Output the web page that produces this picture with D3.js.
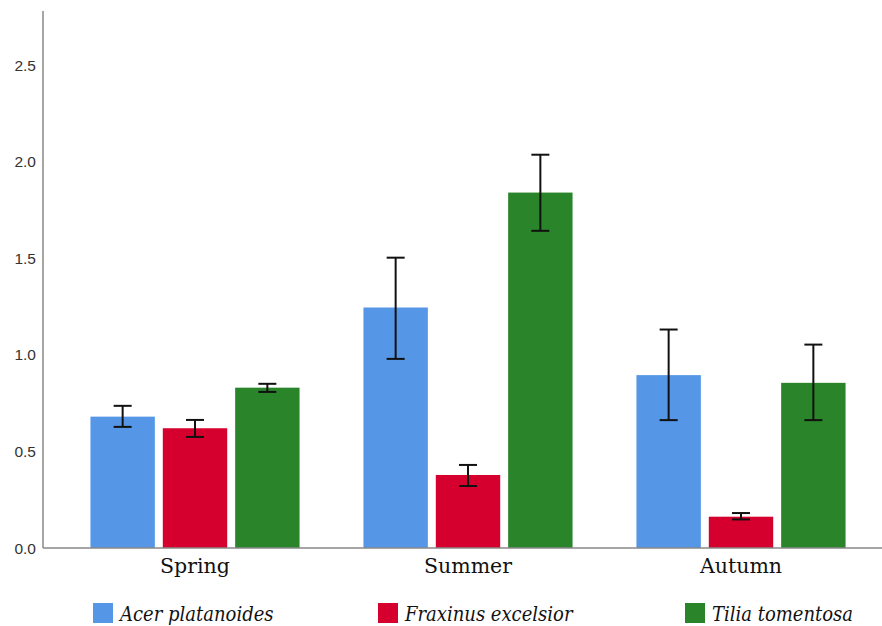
<!DOCTYPE html>
<html>
<head>
<meta charset="utf-8">
<script src="https://cdn.jsdelivr.net/npm/d3@7"></script>
<style>
  body { margin: 0; background: #fff; }
</style>
</head>
<body>
<div id="chart"></div>
<script>
// Data
const seasons = ['Spring', 'Summer', 'Autumn'];
const species = ['Acer platanoides', 'Fraxinus excelsior', 'Tilia tomentosa'];
const colors = ['#5596e6', '#d6002f', '#2a8429'];
const means = [
  [0.68, 0.62, 0.83],
  [1.245, 0.378, 1.84],
  [0.895, 0.162, 0.855]
];
const lower = [
  [0.627, 0.575, 0.808],
  [0.979, 0.321, 1.642],
  [0.662, 0.148, 0.662]
];
const upper = [
  [0.736, 0.663, 0.85],
  [1.503, 0.43, 2.036],
  [1.131, 0.181, 1.053]
];
const yTicks = [0, 0.5, 1.0, 1.5, 2.0, 2.5];

const width = 882, height = 626;
const axisX = 43, plotRight = 882, plotTop = 11, plotBottom = 548;

const svg = d3.select('#chart').append('svg')
  .attr('width', width)
  .attr('height', height);

const y = d3.scaleLinear().domain([0, 2.78]).range([plotBottom, plotTop]);

const x0 = d3.scaleBand().domain(seasons)
  .range([58.5, 877.5])
  .paddingInner(0.234)
  .paddingOuter(0.117);

const x1 = d3.scaleBand().domain(d3.range(species.length))
  .range([0, x0.bandwidth()])
  .paddingInner(0.11);

// Y axis: labels only, the line is drawn separately
svg.append('g')
  .selectAll('text')
  .data(yTicks)
  .join('text')
  .attr('x', axisX - 7)
  .attr('y', d => y(d))
  .attr('dy', '0.36em')
  .attr('text-anchor', 'end')
  .attr('font-family', 'Liberation Sans, Arial, sans-serif')
  .attr('font-size', 15.5)
  .attr('fill', '#333')
  .text(d => d.toFixed(1));
svg.append('line')
  .attr('x1', axisX).attr('x2', axisX)
  .attr('y1', plotTop).attr('y2', plotBottom)
  .attr('stroke', '#888').attr('stroke-width', 1.5);

// Bars
const rows = seasons.map((s, i) => species.map((sp, j) => ({
  season: s, j, mean: means[i][j], lo: lower[i][j], hi: upper[i][j]
})));

const groups = svg.append('g').selectAll('g')
  .data(rows)
  .join('g')
  .attr('transform', (d, i) => `translate(${x0(seasons[i])},0)`);

groups.selectAll('rect')
  .data(d => d)
  .join('rect')
  .attr('x', d => x1(d.j))
  .attr('width', x1.bandwidth())
  .attr('y', d => y(d.mean))
  .attr('height', d => y(0) - y(d.mean))
  .attr('fill', d => colors[d.j]);

// Error bars
const capW = 9;
const err = groups.selectAll('g.err')
  .data(d => d)
  .join('g')
  .attr('class', 'err')
  .attr('stroke', '#111')
  .attr('stroke-width', 2);
err.append('line')
  .attr('x1', d => x1(d.j) + x1.bandwidth() / 2)
  .attr('x2', d => x1(d.j) + x1.bandwidth() / 2)
  .attr('y1', d => y(d.hi))
  .attr('y2', d => y(d.lo));
err.append('line')
  .attr('x1', d => x1(d.j) + x1.bandwidth() / 2 - capW)
  .attr('x2', d => x1(d.j) + x1.bandwidth() / 2 + capW)
  .attr('y1', d => y(d.hi))
  .attr('y2', d => y(d.hi));
err.append('line')
  .attr('x1', d => x1(d.j) + x1.bandwidth() / 2 - capW)
  .attr('x2', d => x1(d.j) + x1.bandwidth() / 2 + capW)
  .attr('y1', d => y(d.lo))
  .attr('y2', d => y(d.lo));

// X axis: category labels
svg.append('g')
  .selectAll('text')
  .data(seasons)
  .join('text')
  .attr('x', d => x0(d) + x0.bandwidth() / 2)
  .attr('y', plotBottom + 25)
  .attr('text-anchor', 'middle')
  .attr('font-family', 'DejaVu Serif, serif')
  .attr('font-size', 20.5)
  .attr('fill', '#111')
  .text(d => d);
svg.append('line')
  .attr('x1', axisX).attr('x2', plotRight)
  .attr('y1', plotBottom).attr('y2', plotBottom)
  .attr('stroke', '#888').attr('stroke-width', 1.5);

// Legend
const legendX = [93, 378, 685];
const legend = svg.append('g').selectAll('g')
  .data(species)
  .join('g')
  .attr('transform', (d, i) => `translate(${legendX[i]},603)`);
legend.append('rect')
  .attr('width', 20).attr('height', 20)
  .attr('fill', (d, i) => colors[i]);
legend.append('text')
  .attr('x', 27).attr('y', 18)
  .attr('font-family', 'DejaVu Serif Condensed, DejaVu Serif, serif')
  .attr('font-style', 'italic')
  .attr('font-size', 20)
  .attr('fill', '#111')
  .text(d => d);
</script>
</body>
</html>
